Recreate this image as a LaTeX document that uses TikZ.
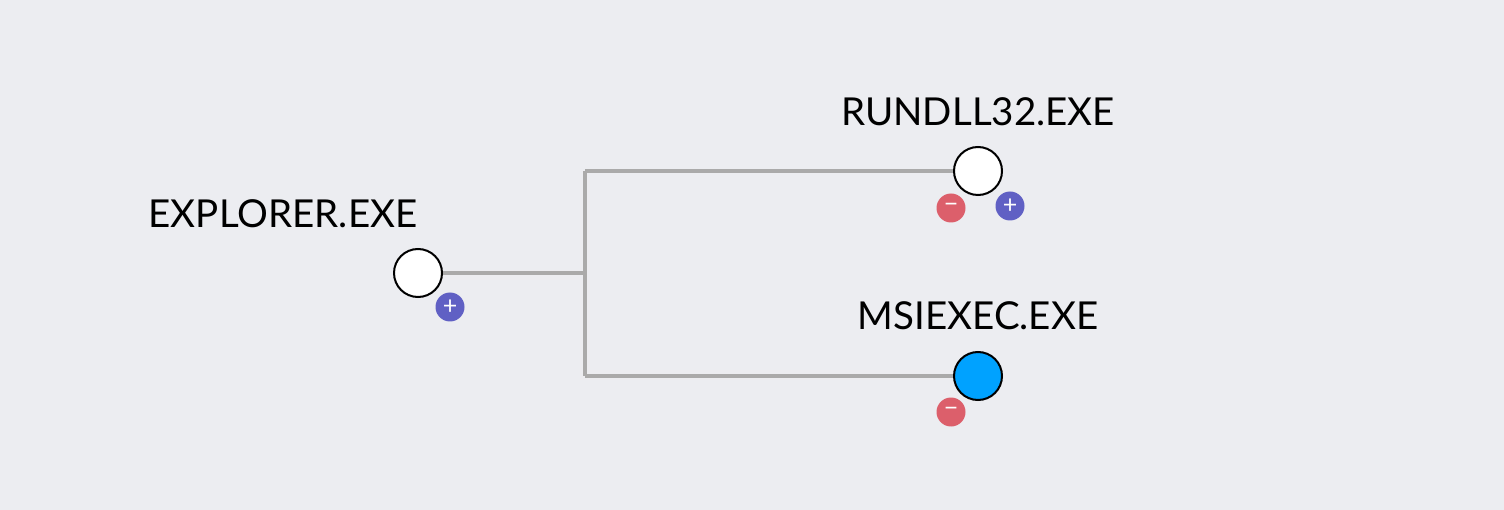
\documentclass[tikz,border=0pt]{standalone}
\usepackage{fontspec}
\setmainfont{Lato}
\usepackage{tikz}
\usetikzlibrary{positioning}
\definecolor{bgcol}{HTML}{ECEDF1}
\definecolor{edgecol}{HTML}{AAAAAA}
\definecolor{pluscol}{HTML}{6060C4}
\definecolor{minuscol}{HTML}{DC5F6B}
\definecolor{selcol}{HTML}{00A2FF}
\tikzstyle{proc} = [circle, draw=black, line width=2pt, fill=white, minimum size=48pt, inner sep=0pt]
\tikzstyle{label} = [font=\fontsize{38.5}{44}\selectfont, inner sep=0pt]
\tikzstyle{line} = [draw, edgecol, line width=4pt]
\tikzstyle{badge} = [circle, minimum size=29pt, inner sep=0pt, text=white, font=\fontsize{25}{25}\selectfont]

\begin{document}
\begin{tikzpicture}[x=1pt, y=-1pt]
%% background
\fill[bgcol] (0, 0) rectangle (1504, 510);
\useasboundingbox (0, 0) rectangle (1504, 510);

%% processes
\node[label] at (283, 214) (explorerlbl) {EXPLORER.EXE};
\node[label] at (978, 112) (rundlllbl) {RUNDLL32.EXE};
\node[label] at (978, 316) (msiexeclbl) {MSIEXEC.EXE};

\coordinate (fork) at (585, 273);
\coordinate (forktop) at (585, 171);
\coordinate (forkbot) at (585, 376);

\path[line] (418, 273) -- (fork);
\path[line] (forktop) -- (forkbot);
\path[line] (forktop) -- (978, 171);
\path[line] (forkbot) -- (978, 376);

\node[proc] at (418, 273) (explorer) {};
\node[proc] at (978, 171) (rundll) {};
\node[proc, fill=selcol] at (978, 376) (msiexec) {};

%% expand / collapse
\node[badge, fill=pluscol] at (450, 307) (explorerplus) {+};
\node[badge, fill=minuscol] at (951, 208) (rundllminus) {\textminus};
\node[badge, fill=pluscol] at (1010, 206) (rundllplus) {+};
\node[badge, fill=minuscol] at (951, 412) (msiexecminus) {\textminus};

\end{tikzpicture}
\end{document}
